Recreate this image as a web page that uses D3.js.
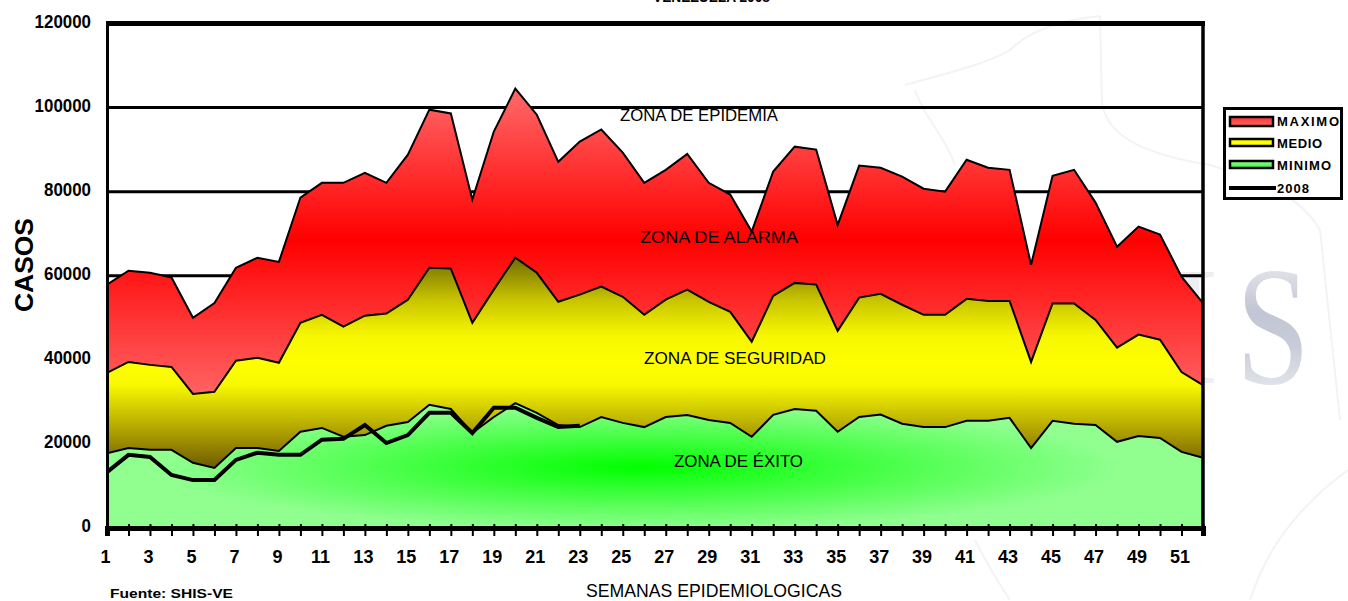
<!DOCTYPE html>
<html>
<head>
<meta charset="utf-8">
<script src="https://cdn.jsdelivr.net/npm/d3@7"></script>
<style>
html, body { margin: 0; padding: 0; background: #fff; }
svg { display: block; }
text { font-family: "Liberation Sans", Arial, sans-serif; fill: #000; }
</style>
</head>
<body>
<div id="chart"></div>
<script>
// values
var weeks = [1,2,3,4,5,6,7,8,9,10,11,12,13,14,15,16,17,18,19,20,21,22,23,24,25,26,
             27,28,29,30,31,32,33,34,35,36,37,38,39,40,41,42,43,44,45,46,47,48,49,50,51,52];
var maximo = [57900,61200,60700,59600,50000,53500,61900,64300,63300,78600,82100,82100,84500,82100,88800,99500,98600,78100,94300,104500,98300,87100,91900,94800,89300,82100,
              85200,89000,82100,79300,70500,84800,90700,90000,72100,86200,85700,83600,80700,80000,87600,85700,85200,62600,83800,85200,77400,66900,71700,69800,59800,53500];
var medio = [36900,39500,38800,38300,31900,32400,39800,40500,39300,48800,50700,47900,50500,51000,54300,61900,61700,48800,56700,64300,60700,53800,55500,57400,55000,50700,
             54300,56700,53800,51400,44300,55200,58300,57900,46900,54800,55700,53100,50700,50700,54500,54000,54000,39500,53400,53400,49500,42900,46000,44800,37100,34000];
var minimo = [17800,19000,18600,18600,15500,14300,19000,19000,18300,22900,23800,21700,22100,24300,25200,29300,28300,22600,26400,29700,27400,24500,24000,26400,25000,24000,
              26400,26900,25700,25000,21700,26900,28300,27900,22900,26400,27000,24800,24000,24000,25500,25500,26200,19000,25500,24800,24500,20500,21900,21400,18100,16700];
var casos2008 = [13300,17400,16900,12600,11400,11400,16200,17900,17400,17400,21000,21200,24500,20200,22100,27400,27400,22600,28600,28600,26200,24000,24300];

var yTicks = [0,20000,40000,60000,80000,100000,120000];
var xTickLabels = [1,3,5,7,9,11,13,15,17,19,21,23,25,27,29,31,33,35,37,39,41,43,45,47,49,51];
var legendNames = ["MAXIMO","MEDIO","MINIMO","2008"];
var zoneNames = ["ZONA DE EPIDEMIA","ZONA DE ALARMA","ZONA DE SEGURIDAD","ZONA DE ÉXITO"];

var W = 1348, H = 601;
var left = 107, right = 1203, top_ = 23.5, bottom = 528;

var svg = d3.select("#chart").append("svg").attr("width", W).attr("height", H);
var defs = svg.append("defs");

var x = d3.scaleLinear().domain([1, 52]).range([left, right]);
var y = d3.scaleLinear().domain([0, 120000]).range([bottom, top_]);

function vGradient(id, y1, y2, stops) {
    var g = defs.append("linearGradient").attr("id", id)
        .attr("gradientUnits", "userSpaceOnUse")
        .attr("x1", 0).attr("x2", 0).attr("y1", y1).attr("y2", y2);
    stops.forEach(function(s) {
        g.append("stop").attr("offset", (s[0] - y1) / (y2 - y1)).attr("stop-color", s[1]);
    });
}

vGradient("gradMax", 88, 392, [[88, "#ff6a6a"], [240, "#ff0000"], [392, "#ff6262"]]);
vGradient("gradMed", 262, 468, [[262, "#7a7500"], [300, "#c8c400"], [335, "#f6f600"], [363, "#ffff00"],
                                [385, "#f8f800"], [415, "#c8c000"], [440, "#a09000"], [468, "#6a5a00"]]);
vGradient("gradLogo", 265, 385, [[265, "#e4e5ea"], [310, "#c2c6d4"], [345, "#c8ccd8"], [385, "#e0e2e8"]]);

var rg = defs.append("radialGradient").attr("id", "gradMin")
    .attr("gradientUnits", "userSpaceOnUse")
    .attr("cx", 0).attr("cy", 0).attr("r", 1)
    .attr("gradientTransform", "translate(640,467) scale(480,62)");
rg.append("stop").attr("offset", 0).attr("stop-color", "#00ff00");
rg.append("stop").attr("offset", 1).attr("stop-color", "#90ff90");

// legend swatches use the same colours, squeezed to the swatch height
var legMax = defs.append("linearGradient").attr("id", "legMax").attr("x1", 0).attr("x2", 0).attr("y1", 0).attr("y2", 1);
legMax.append("stop").attr("offset", 0).attr("stop-color", "#ff3030");
legMax.append("stop").attr("offset", 1).attr("stop-color", "#ff6a6a");
var legMin = defs.append("linearGradient").attr("id", "legMin").attr("x1", 0).attr("x2", 0).attr("y1", 0).attr("y2", 1);
legMin.append("stop").attr("offset", 0).attr("stop-color", "#90ff90");
legMin.append("stop").attr("offset", 1).attr("stop-color", "#40f040");

// faint logo behind the chart
var wm = svg.append("g").attr("fill", "none").attr("stroke", "#f3f3f3").attr("stroke-width", 2);
wm.append("path").attr("d", "M905,85 C940,75 985,65 1010,50 C1030,30 1060,20 1100,16 M1100,16 L1102,105 C1110,140 1150,155 1210,165 C1260,180 1300,195 1320,230 L1340,420");
wm.append("path").attr("d", "M915,90 C925,120 945,135 955,165");
wm.append("path").attr("d", "M975,540 C985,560 1000,585 1010,600 M1250,600 C1260,570 1280,520 1348,470");
svg.append("text").attr("x", 1236).attr("y", 383)
    .attr("textLength", 74).attr("lengthAdjust", "spacingAndGlyphs")
    .style("font-family", "Liberation Serif")
    .style("font-size", "170px").style("fill", "url(#gradLogo)").text("S");
svg.append("text").attr("x", 1163).attr("y", 383)
    .style("font-family", "Liberation Serif")
    .style("font-size", "170px").style("fill", "#eeeef2").text("I");

// grid sits behind the areas
svg.append("g").selectAll("line").data(yTicks.slice(1, 6)).join("line")
    .attr("x1", left).attr("x2", right)
    .attr("y1", d => y(d)).attr("y2", d => y(d))
    .attr("stroke", "#000").attr("stroke-width", 3);

var area = d3.area().x((d, i) => x(weeks[i])).y0(y(0)).y1(d => y(d));
var line = d3.line().x((d, i) => x(weeks[i])).y(d => y(d));

[[maximo, "url(#gradMax)"], [medio, "url(#gradMed)"], [minimo, "url(#gradMin)"]].forEach(function(s) {
    svg.append("path").attr("d", area(s[0])).attr("fill", s[1]);
    svg.append("path").attr("d", line(s[0])).attr("fill", "none").attr("stroke", "#000").attr("stroke-width", 2);
});

svg.append("path").attr("d", line(casos2008))
    .attr("fill", "none").attr("stroke", "#000").attr("stroke-width", 4);

// frame
var axisY = d3.axisLeft(y).tickValues(yTicks).tickSize(0).tickPadding(16).tickFormat(d3.format("d"));
var gy = svg.append("g").attr("transform", "translate(" + left + ",0)").call(axisY);
gy.select(".domain").attr("stroke", "#000").attr("stroke-width", 3);
gy.selectAll("text").style("font-size", "18px").style("font-weight", "bold")
    .attr("dy", "0.22em")
    .attr("textLength", d => String(d).length * 9.4).attr("lengthAdjust", "spacingAndGlyphs");

var axisX = d3.axisBottom(x).tickValues(weeks).tickSize(8).tickPadding(14)
    .tickFormat(d => xTickLabels.indexOf(d) >= 0 ? d : "");
var gx = svg.append("g").attr("transform", "translate(0," + bottom + ")").call(axisX);
gx.select(".domain").attr("stroke", "#000").attr("stroke-width", 5);
gx.selectAll(".tick line").attr("stroke", "#000").attr("stroke-width", 2).attr("y1", -4);
gx.selectAll("text").style("font-size", "18px").style("font-weight", "bold").attr("dx", -2);

svg.append("line").attr("x1", left - 1).attr("x2", right + 2).attr("y1", top_).attr("y2", top_)
    .attr("stroke", "#000").attr("stroke-width", 5);
svg.append("line").attr("x1", right).attr("x2", right).attr("y1", top_).attr("y2", bottom + 6)
    .attr("stroke", "#000").attr("stroke-width", 3.5);

// zone labels
var zoneX = [620, 640, 644, 674], zoneY = [121, 243, 364, 467], zoneW = [158, 158, 182, 129];
svg.append("g").selectAll("text").data(zoneNames).join("text")
    .attr("x", (d, i) => zoneX[i]).attr("y", (d, i) => zoneY[i])
    .attr("textLength", (d, i) => zoneW[i]).attr("lengthAdjust", "spacingAndGlyphs")
    .style("font-size", "17px").text(d => d);

// axis titles
svg.append("text").attr("transform", "translate(33,265) rotate(-90)")
    .attr("text-anchor", "middle").attr("textLength", 94).attr("lengthAdjust", "spacingAndGlyphs")
    .style("font-size", "25px").style("font-weight", "bold").text("CASOS");
svg.append("text").attr("x", 586).attr("y", 597)
    .attr("textLength", 256).attr("lengthAdjust", "spacingAndGlyphs")
    .style("font-size", "18px").text("SEMANAS EPIDEMIOLOGICAS");
svg.append("text").attr("x", 110).attr("y", 598)
    .attr("textLength", 123).attr("lengthAdjust", "spacingAndGlyphs")
    .style("font-size", "13px").style("font-weight", "bold").text("Fuente: SHIS-VE");
// the title is cut by the top edge in the reference as well
svg.append("text").attr("x", 653).attr("y", 2)
    .attr("textLength", 117).attr("lengthAdjust", "spacingAndGlyphs")
    .style("font-size", "14px").style("font-weight", "bold").text("VENEZUELA 2008");

// legend
var lg = svg.append("g");
lg.append("rect").attr("x", 1224.5).attr("y", 108.5).attr("width", 117).attr("height", 90)
    .attr("fill", "#fff").attr("stroke", "#000").attr("stroke-width", 3);
var legendFill = ["url(#legMax)", "#ffff00", "url(#legMin)"];
var legendY = [121, 143, 165, 188];
legendFill.forEach(function(f, i) {
    lg.append("rect").attr("x", 1230).attr("y", legendY[i] - 4).attr("width", 43).attr("height", i == 0 ? 9 : 7)
        .attr("fill", f).attr("stroke", "#000").attr("stroke-width", 2.5);
});
lg.append("line").attr("x1", 1229).attr("x2", 1276).attr("y1", legendY[3]).attr("y2", legendY[3])
    .attr("stroke", "#000").attr("stroke-width", 4);
var legendW = [62, 45, 54, 32];
lg.selectAll("text").data(legendNames).join("text")
    .attr("x", 1277).attr("y", (d, i) => legendY[i] + 5)
    .attr("textLength", (d, i) => legendW[i]).attr("lengthAdjust", "spacing")
    .style("font-size", "13px").style("font-weight", "bold").text(d => d);
</script>
</body>
</html>
